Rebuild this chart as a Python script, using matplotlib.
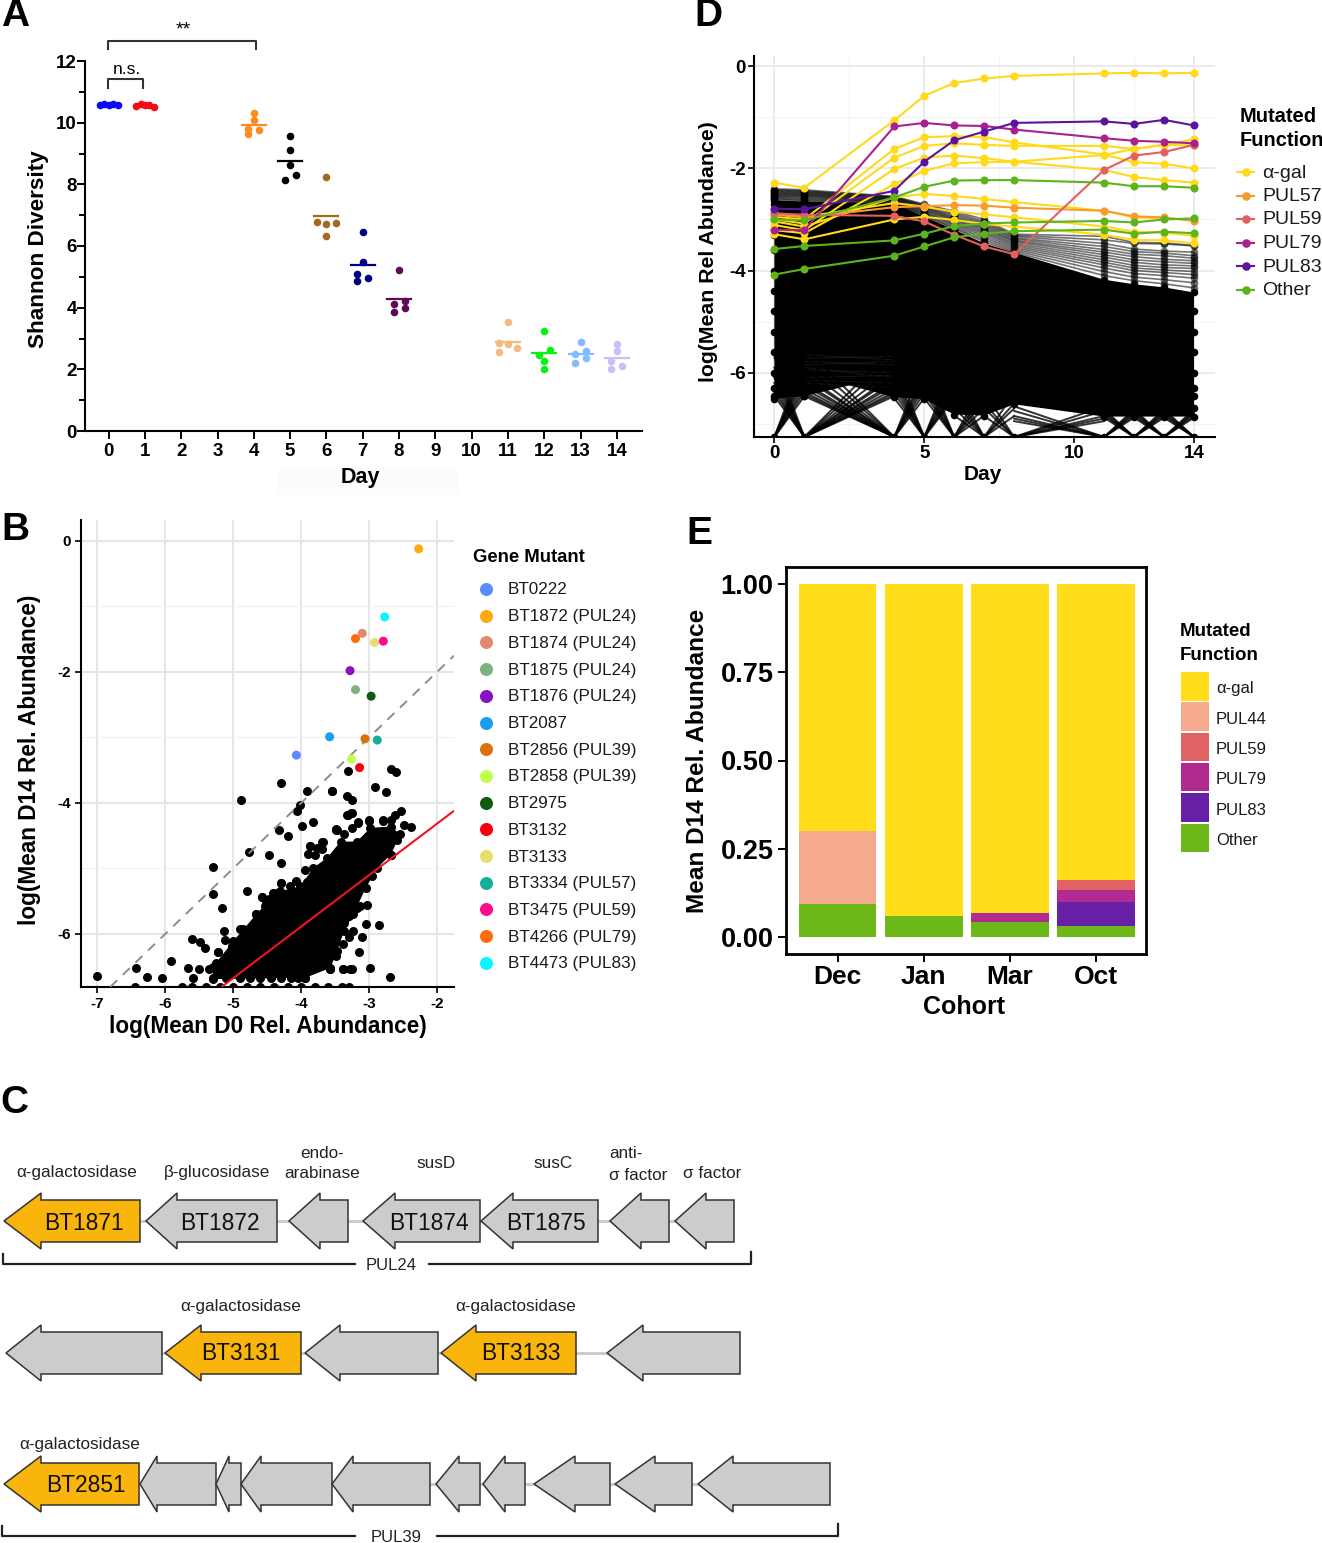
import matplotlib
matplotlib.use('Agg')
import matplotlib.pyplot as plt
from matplotlib.patches import Polygon, Rectangle

plt.rcParams['font.family'] = ['Liberation Sans', 'DejaVu Sans']
plt.rcParams['axes.unicode_minus'] = False

W, H = 1322, 1543

# panel A
shannon_days = [0, 1, 4, 5, 6, 7, 8, 11, 12, 13, 14]
shannon_colors = ['#0A0AF5', '#F50A14', '#FF8A1E', '#000000', '#A06A20', '#00007F', '#5E0A55',
                  '#F5B981', '#0AF014', '#82BCFF', '#C8C0FA']
shannon_offsets = [
    [-0.25, -0.12, 0, 0.12, 0.25],
    [-0.25, -0.12, 0, 0.12, 0.25],
    [-0.15, -0.15, 0, 0, 0.15],
    [-0.15, 0.15, 0, 0, 0],
    [0, -0.25, 0.25, 0, 0],
    [0, 0, -0.15, 0.15, -0.15],
    [0, 0.15, -0.15, 0.15, -0.15],
    [0, -0.25, 0, 0.25, -0.25],
    [0, 0.15, -0.15, 0, 0],
    [0, 0.15, -0.15, 0.15, -0.15],
    [0, 0, -0.15, 0.15, -0.15],
]
shannon_values = [
    [10.57, 10.62, 10.58, 10.62, 10.57],
    [10.53, 10.6, 10.56, 10.58, 10.5],
    [9.62, 9.8, 10.1, 10.3, 9.75],
    [8.15, 8.3, 8.63, 9.1, 9.57],
    [8.25, 6.77, 6.76, 6.7, 6.34],
    [6.47, 5.48, 5.09, 4.97, 4.86],
    [5.22, 4.22, 4.13, 4.0, 3.87],
    [3.52, 2.87, 2.83, 2.7, 2.56],
    [3.23, 2.63, 2.47, 2.28, 2.0],
    [2.9, 2.59, 2.49, 2.36, 2.19],
    [2.82, 2.6, 2.28, 2.12, 2.0],
]
shannon_means = [10.59, 10.55, 9.93, 8.76, 6.97, 5.38, 4.29, 2.89, 2.53, 2.5, 2.37]

# panel B
gene_names = ['BT0222', 'BT1872 (PUL24)', 'BT1874 (PUL24)', 'BT1875 (PUL24)', 'BT1876 (PUL24)', 'BT2087',
              'BT2856 (PUL39)', 'BT2858 (PUL39)', 'BT2975', 'BT3132', 'BT3133', 'BT3334 (PUL57)',
              'BT3475 (PUL59)', 'BT4266 (PUL79)', 'BT4473 (PUL83)']
gene_colors = ['#5B8CFF', '#FFA90F', '#E28A70', '#7FB27F', '#8612C4', '#1B9CF2', '#DB7207', '#BEFF50',
               '#0F5A0F', '#F5000F', '#E8DF6A', '#14AF96', '#FF0A8C', '#FF6D0A', '#0AF5FF']
gene_d0 = [-4.07, -2.27, -3.10, -3.20, -3.28, -3.58, -3.06, -3.26, -2.97, -3.14, -2.92, -2.88, -2.79, -3.20, -2.77]
gene_d14 = [-3.27, -0.12, -1.41, -2.27, -1.98, -2.99, -3.02, -3.33, -2.37, -3.46, -1.55, -3.04, -1.53, -1.49, -1.16]

other_d0 = [-3.31, -2.68, -2.61, -4.29, -3.91, -3.54, -2.91, -2.75, -3.32, -3.25, -4.88, -4.01, -4.06, -3.31,
            -3.25, -3.16, -3.0, -2.79, -4.76, -4.48, -3.87, -3.68, -5.3, -4.3, -5.3, -5.16, -4.79, -4.29,
            -4.57, -4.4, -5.6, -5.49, -5.41, -5.22, -5.92, -6.43, -5.67, -5.5, -7.0, -6.27, -6.05, -5.59,
            -5.35, -6.45, -3.38, -3.25, -3.57, -3.82, -3.99, -4.33, -4.19, -3.48,
            -5.13, -5.12, -4.90, -4.80, -5.02, -5.22, -4.66, -4.58, -4.48, -4.41, -4.53, -4.37, -4.30, -4.16,
            -4.08, -3.91, -3.94, -3.69, -3.77, -3.87, -3.90, -3.79, -3.69, -3.49, -3.37, -3.25, -3.16, -3.0,
            -2.80, -2.68, -2.62, -2.53, -2.49, -2.39, -2.59, -2.68, -2.96, -3.03, -3.13, -3.18, -3.30, -3.37,
            -3.23, -3.29, -3.10, -3.38, -3.15, -3.48, -3.38, -3.28, -3.58, -2.99, -2.69, -2.86, -3.05, -3.47,
            -3.33, -3.27, -3.55,
            -5.3, -5.1, -4.9, -4.75, -4.6, -4.45, -4.3, -4.15, -4.05, -3.94,
            -5.75, -5.6, -5.4, -5.2, -5.0, -4.8, -4.6, -4.4, -4.2, -4.0, -3.8, -3.6, -3.4, -3.3]
other_d14 = [-3.51, -3.48, -3.53, -3.70, -3.81, -3.81, -3.75, -3.83, -3.90, -3.96, -3.96, -4.03, -4.12, -4.19,
             -4.15, -4.29, -4.26, -4.26, -4.75, -4.79, -4.65, -4.6, -4.98, -4.92, -5.39, -5.6, -5.35, -5.22,
             -5.43, -5.38, -6.07, -6.13, -6.22, -6.28, -6.41, -6.52, -6.52, -6.54, -6.64, -6.66, -6.67, -6.67,
             -6.53, -6.81, -6.54, -6.53, -6.54, -4.29, -4.35, -4.42, -4.50, -4.40,
             -5.96, -6.10, -5.93, -5.95, -6.19, -6.28, -5.70, -5.44, -5.46, -5.37, -5.58, -5.54, -5.22, -5.27,
             -5.19, -5.20, -5.03, -4.60, -4.69, -4.65, -4.78, -4.79, -4.70, -4.41, -4.47, -4.38, -4.30, -4.27,
             -4.27, -4.26, -4.19, -4.12, -4.33, -4.36, -4.56, -4.79, -5.12, -5.56, -5.58, -5.60, -5.73, -5.83,
             -5.95, -6.05, -6.05, -6.15, -6.27, -6.34, -6.53, -6.53, -6.54, -6.52, -6.65, -5.87, -5.85, -4.42,
             -4.18, -4.15, -3.82,
             -6.67, -6.67, -6.67, -6.67, -6.67, -6.67, -6.67, -6.67, -6.67, -6.67,
             -6.81, -6.81, -6.81, -6.81, -6.81, -6.81, -6.81, -6.81, -6.81, -6.81, -6.81, -6.81, -6.81, -6.81]
# outline of the dense cloud of genes
cloud_d0 = [-5.3, -5.25, -5.0, -4.85, -4.66, -4.51, -4.31, -4.01, -3.82, -3.62, -3.42, -3.18, -2.98, -2.68, -2.54,
            -2.68, -2.88, -3.05, -3.23, -3.37, -3.47, -3.57, -3.94, -5.3]
cloud_d14 = [-6.5, -6.44, -6.11, -5.93, -5.70, -5.53, -5.35, -5.27, -4.99, -4.84, -4.59, -4.59, -4.38, -4.36, -4.48,
             -4.79, -4.99, -5.30, -5.70, -5.96, -6.26, -6.52, -6.67, -6.69]
unity_x = [-6.81, -1.75]
unity_y = [-6.81, -1.75]
fit_x = [-5.16, -1.75]
fit_y = [-6.8, -4.12]

# panel C: tip, shoulder and tail of each gene arrow, left to right
row1_genes = [(4, 41, 140), (146, 177, 277), (289, 320, 348), (363, 395, 480), (481, 513, 598), (610, 641, 669), (675, 706, 734)]
row1_fill = ['#F9B50B', '#CCCCCC', '#CCCCCC', '#CCCCCC', '#CCCCCC', '#CCCCCC', '#CCCCCC']
row2_genes = [(6, 41, 162), (165, 201, 301), (305, 340, 438), (441, 476, 576), (607, 643, 740)]
row2_fill = ['#CCCCCC', '#F9B50B', '#CCCCCC', '#F9B50B', '#CCCCCC']
row3_genes = [(4, 41, 139), (140, 157, 216), (216, 229, 241), (241, 261, 332), (332, 353, 430), (436, 459, 480),
              (483, 505, 525), (534, 575, 610), (615, 655, 692), (698, 733, 830)]
row3_fill = ['#F9B50B'] + ['#CCCCCC'] * 9
gene_tags = [('BT1871', 84, 1221), ('BT1872', 220, 1221), ('BT1874', 429, 1221), ('BT1875', 546, 1221),
             ('BT3131', 241, 1352), ('BT3133', 521, 1352), ('BT2851', 86, 1484)]
func_tags = [('α-galactosidase', 77, 1171), ('β-glucosidase', 217, 1171), ('endo-', 322, 1151), ('arabinase', 322, 1172),
             ('susD', 436, 1162), ('susC', 553, 1162), ('σ factor', 712, 1172),
             ('α-galactosidase', 241, 1305), ('α-galactosidase', 516, 1305), ('α-galactosidase', 80, 1443)]

# panel D
rel_days = [0, 1, 4, 5, 6, 7, 8, 11, 12, 13, 14]
func_names = ['α-gal', 'PUL57', 'PUL59', 'PUL79', 'PUL83', 'Other']
func_colors = ['#FFD91A', '#F79B2E', '#E3605F', '#A8218E', '#5A14A0', '#5DB31B']
gal_lines = [
    [-2.28, -2.38, -1.06, -0.58, -0.33, -0.24, -0.19, -0.14, -0.13, -0.14, -0.13],
    [-2.95, -3.0, -1.62, -1.39, -1.37, -1.39, -1.49, -1.73, -1.88, -1.91, -2.0],
    [-3.0, -3.08, -1.79, -1.56, -1.51, -1.54, -1.56, -1.56, -1.62, -1.54, -1.43],
    [-3.11, -3.21, -2.01, -1.79, -1.75, -1.8, -1.87, -2.03, -2.17, -2.23, -2.28],
    [-3.21, -3.27, -2.31, -2.05, -1.9, -1.88, -1.87, -1.74, -1.62, -1.54, -1.55],
    [-3.04, -3.14, -2.57, -2.5, -2.54, -2.6, -2.66, -2.83, -2.96, -2.98, -3.01],
    [-2.88, -2.95, -2.68, -2.75, -2.85, -2.9, -2.96, -3.14, -3.24, -3.26, -3.32],
    [-3.29, -3.39, -3.0, -2.95, -3.01, -3.09, -3.14, -3.3, -3.4, -3.41, -3.47],
]
pul57_line = [-2.91, -2.96, -2.76, -2.74, -2.72, -2.73, -2.77, -2.83, -2.94, -2.96, -3.03]
pul59_line = [-2.88, -2.91, -2.93, -3.04, -3.3, -3.53, -3.68, -2.03, -1.75, -1.68, -1.54]
pul79_line = [-3.2, -3.21, -1.18, -1.11, -1.16, -1.17, -1.24, -1.41, -1.46, -1.48, -1.51]
pul83_line = [-2.79, -2.8, -2.44, -1.87, -1.45, -1.28, -1.11, -1.08, -1.13, -1.05, -1.16]
other_lines = [
    [-3.0, -3.02, -2.57, -2.36, -2.24, -2.23, -2.23, -2.28, -2.35, -2.35, -2.38],
    [-3.58, -3.52, -3.41, -3.28, -3.13, -3.08, -3.06, -3.03, -3.06, -3.0, -2.98],
    [-4.08, -3.97, -3.71, -3.53, -3.35, -3.28, -3.23, -3.2, -3.28, -3.24, -3.27],
]
gray_lines = [
    [-2.40, -2.42, -2.55, -2.70, -2.84, -3.00, -3.29, -3.33, -3.45, -3.46, -3.51],
    [-2.42, -2.44, -2.56, -2.72, -2.87, -3.04, -3.31, -3.40, -3.47, -3.48, -3.52],
    [-2.43, -2.45, -2.57, -2.73, -2.90, -3.07, -3.33, -3.47, -3.58, -3.62, -3.64],
    [-2.45, -2.47, -2.58, -2.75, -2.93, -3.10, -3.36, -3.53, -3.63, -3.66, -3.71],
    [-2.46, -2.48, -2.59, -2.76, -2.96, -3.13, -3.38, -3.59, -3.68, -3.71, -3.76],
    [-2.48, -2.50, -2.60, -2.78, -2.98, -3.16, -3.41, -3.64, -3.73, -3.78, -3.81],
    [-2.49, -2.51, -2.61, -2.80, -3.00, -3.19, -3.43, -3.69, -3.79, -3.83, -3.86],
    [-2.51, -2.53, -2.62, -2.82, -3.02, -3.22, -3.46, -3.74, -3.84, -3.89, -3.91],
    [-2.52, -2.54, -2.63, -2.84, -3.05, -3.25, -3.49, -3.79, -3.90, -3.94, -3.96],
    [-2.54, -2.56, -2.64, -2.86, -3.08, -3.28, -3.52, -3.84, -3.95, -3.99, -4.02],
    [-2.55, -2.58, -2.65, -2.88, -3.10, -3.32, -3.55, -3.89, -4.00, -4.04, -4.08],
    [-2.57, -2.60, -2.66, -2.90, -3.13, -3.36, -3.58, -3.95, -4.06, -4.10, -4.15],
    [-2.59, -2.62, -2.67, -2.92, -3.16, -3.40, -3.61, -4.02, -4.13, -4.18, -4.24],
    [-2.60, -2.64, -2.68, -2.94, -3.18, -3.44, -3.64, -4.10, -4.20, -4.26, -4.34],
]
mass_top = [-2.62, -2.65, -2.68, -2.95, -3.2, -3.47, -3.65, -4.18, -4.27, -4.33, -4.43]
mass_low = [-6.51, -6.46, -6.48, -6.52, -6.82, -6.84, -6.62, -6.86, -6.86, -6.86, -6.86]
sag_day = [2.5]
sag_level = [-6.25]
column_levels = [-2.7, -3.0, -3.3, -3.6, -4.0, -4.4, -4.8, -5.2, -5.6, -6.0, -6.3, -6.45, -6.7]
floor_level = -7.26
gap_from = [0, 1, 4, 5, 6, 7, 8, 11, 12, 13]
gap_to = [1, 4, 5, 6, 7, 8, 11, 12, 13, 14]
gap_levels = [
    [-6.46, -6.38, -6.3, -6.2, -6.1, -6.0, -5.9, -5.7],
    [-6.46, -6.42, -6.38, -6.32, -6.25, -6.2, -6.1, -6.05, -5.9, -5.7, -5.5],
    [-6.5, -6.4, -6.3, -6.2, -6.1, -6.0, -5.8],
    [-6.5, -6.4, -6.3, -6.15, -6.0, -5.8],
    [-6.84, -6.7, -6.55, -6.4, -6.2],
    [-6.85, -6.7, -6.6, -6.4],
    [-6.95, -6.9, -6.85, -6.75, -6.66],
    [-6.88, -6.84, -6.8, -6.76, -6.72],
    [-6.88, -6.84, -6.8, -6.76, -6.72],
    [-6.88, -6.84, -6.8, -6.76, -6.72],
]
streak_start = [-5.65, -5.72, -5.78, -5.85, -5.95, -6.1, -6.15, -6.2, -5.9]
streak_end = [-5.75, -5.68, -5.85, -5.78, -6.0, -6.05, -6.2, -6.3, -6.1]

# panel E
cohorts = ['Dec', 'Jan', 'Mar', 'Oct']
stack_names = ['α-gal', 'PUL44', 'PUL59', 'PUL79', 'PUL83', 'Other']
stack_colors = ['#FFDD1A', '#F7AB8E', '#E26363', '#B02A8F', '#6720A5', '#6DB819']
other_share = [0.094, 0.061, 0.044, 0.03]
pul83_share = [0, 0, 0, 0.068]
pul79_share = [0, 0, 0.023, 0.034]
pul59_share = [0, 0, 0, 0.03]
pul44_share = [0.206, 0, 0, 0]
gal_share = [0.70, 0.939, 0.933, 0.838]


def add_ax(left, top, right, bottom):
    return fig.add_axes([left / W, 1 - bottom / H, (right - left) / W, (bottom - top) / H])


def clean_spines(ax, width=1.5):
    ax.spines['top'].set_visible(False)
    ax.spines['right'].set_visible(False)
    ax.spines['left'].set_linewidth(width)
    ax.spines['bottom'].set_linewidth(width)


def bold_ticks(ax):
    for lab in ax.get_xticklabels() + ax.get_yticklabels():
        lab.set_fontweight('bold')


def label(x, y, s, **kw):
    # va=center sits a little high next to the reference
    kw.setdefault('va', 'center')
    page.text(x, y + 2, s, **kw)


fig = plt.figure(figsize=(W / 100, H / 100), dpi=100)

# page layer in pixel coordinates for panel C, legends and labels
page = fig.add_axes([0, 0, 1, 1], zorder=5)
page.set_xlim(0, W)
page.set_ylim(H, 0)
page.axis('off')
page.patch.set_alpha(0)

# ---- A ----
ax = add_ax(85, 61, 642, 431)
for i in range(len(shannon_days)):
    day = shannon_days[i]
    xs = [day + o for o in shannon_offsets[i]]
    ax.scatter(xs, shannon_values[i], s=30, color=shannon_colors[i], linewidths=0, clip_on=False, zorder=3)
    if i > 1:
        ax.plot([day - 0.33, day + 0.33], [shannon_means[i]] * 2, color=shannon_colors[i], lw=1.6, zorder=3)
ax.set_xlim(-0.65, 14.69)
ax.set_ylim(0, 12)
ax.set_xticks(range(15))
ax.set_yticks(range(0, 13, 2))
ax.set_yticks(range(1, 13, 2), minor=True)
ax.tick_params(axis='x', which='major', length=6, width=1.4, labelsize=13.5, pad=3)
ax.tick_params(axis='y', which='major', length=6, width=1.4, labelsize=13.5, pad=0)
ax.tick_params(axis='y', which='minor', length=4, width=1.4)
bold_ticks(ax)
clean_spines(ax)

page.add_patch(Rectangle((278, 468), 180, 27, color='#FCFCFC', lw=0))
label(360, 476, 'Day', fontsize=15.5, fontweight='bold', ha='center')
page.text(39, 249, 'Shannon Diversity', fontsize=16.2, fontweight='bold', rotation=90, ha='center', va='center')
page.plot([108, 108, 256, 256], [49, 41, 41, 49], color='#333333', lw=1.5)
label(183, 28, '**', fontsize=14, ha='center')
page.plot([108, 108, 143, 143], [88, 79, 79, 88], color='#333333', lw=1.5)
label(127, 67, 'n.s.', fontsize=12.5, ha='center')

# ---- B ----
ax = add_ax(81, 520, 454, 987)
ax.set_xlim(-7.24, -1.75)
ax.set_ylim(-6.81, 0.32)
ax.set_axisbelow(True)
ax.set_xticks(range(-7, -1))
ax.set_yticks([-6, -4, -2, 0])
ax.set_yticks([-5, -3, -1], minor=True)
ax.grid(True, which='major', color='#E6E6E6', lw=1.5)
ax.grid(True, which='minor', axis='y', color='#F0F0F0', lw=0.8)
ax.fill(cloud_d0, cloud_d14, color='black', lw=0, zorder=2)
ax.scatter(cloud_d0, cloud_d14, s=42, color='black', linewidths=0, zorder=2)
ax.scatter(other_d0, other_d14, s=42, color='black', linewidths=0, zorder=2)
ax.plot(unity_x, unity_y, color='#8C8C8C', lw=1.4, ls=(0, (5, 4)), zorder=3)
ax.plot(fit_x, fit_y, color='#F0141E', lw=1.5, zorder=4)
ax.scatter(gene_d0, gene_d14, s=42, c=gene_colors, linewidths=0, zorder=5)
ax.tick_params(axis='both', which='major', length=4, width=1.2, labelsize=11, pad=3)
ax.tick_params(axis='y', which='minor', length=0)
bold_ticks(ax)
clean_spines(ax)

label(268, 1024, 'log(Mean D0 Rel. Abundance)', fontsize=16.3, fontweight='bold', ha='center')
page.text(30, 760, 'log(Mean D14 Rel. Abundance)', fontsize=16.3, fontweight='bold', rotation=90, ha='center', va='center')
label(473, 556, 'Gene Mutant', fontsize=13.3, fontweight='bold')
for i in range(len(gene_names)):
    y = 589 + 26.7 * i
    page.scatter([486], [y], s=88, color=gene_colors[i], linewidths=0)
    label(508, y - 1, gene_names[i], fontsize=12.3, color='#1A1A1A')

# ---- C ----
for genes, fills, yc, body, head in [(row1_genes, row1_fill, 1221, 21, 28),
                                     (row2_genes, row2_fill, 1353, 21, 28),
                                     (row3_genes, row3_fill, 1484, 21, 28)]:
    page.plot([genes[0][2], genes[-1][0]], [yc, yc], color='#CCCCCC', lw=2.2, zorder=1)
    for gene, fill in zip(genes, fills):
        tip, shoulder, tail = gene
        pts = [(tip, yc), (shoulder, yc - head), (shoulder, yc - body), (tail, yc - body),
               (tail, yc + body), (shoulder, yc + body), (shoulder, yc + head)]
        page.add_patch(Polygon(pts, closed=True, facecolor=fill, edgecolor='#333333', lw=1.1, zorder=2))
for name, x, y in gene_tags:
    page.text(x, y + 2, name, fontsize=16.4, ha='center', va='center', color='#111111', zorder=3)
for name, x, y in func_tags:
    label(x, y, name, fontsize=12.3, ha='center', color='#222222')
label(609, 1152, 'anti-', fontsize=12.3, color='#222222')
label(609, 1173, 'σ factor', fontsize=12.3, color='#222222')

page.plot([3, 3, 355], [1254, 1264, 1264], color='#222222', lw=1.6)
page.plot([429, 751, 751], [1264, 1264, 1252], color='#222222', lw=1.6)
label(391, 1263, 'PUL24', fontsize=12, ha='center', color='#222222')
page.plot([2, 2, 355], [1526, 1536, 1536], color='#222222', lw=1.6)
page.plot([437, 838, 838], [1536, 1536, 1524], color='#222222', lw=1.6)
label(396, 1535, 'PUL39', fontsize=12, ha='center', color='#222222')

# ---- D ----
ax = add_ax(754, 56, 1215, 437)
ax.set_xlim(-0.68, 14.7)
ax.set_ylim(floor_level, 0.2)
ax.set_axisbelow(True)
ax.set_xticks([0, 5, 10, 14])
ax.set_xticks([2.5, 7.5, 12], minor=True)
ax.set_yticks([-6, -4, -2, 0])
ax.set_yticks([-7, -5, -3, -1], minor=True)
ax.grid(True, which='major', color='#EBEBEB', lw=1.4)
ax.grid(True, which='minor', color='#F3F3F3', lw=0.8)
for line in gray_lines:
    ax.plot(rel_days, line, color='black', alpha=0.55, lw=1.2, marker='o', ms=5.5, mew=0, zorder=2)
# dense block of the remaining gene mutants
block_days = rel_days + rel_days[:0:-1][:9] + sag_day + rel_days[1::-1]
block_levels = mass_top + mass_low[:0:-1][:9] + sag_level + mass_low[1::-1]
ax.fill(block_days, block_levels, color='black', lw=0, zorder=2)
for a, b in zip(streak_start, streak_end):
    ax.plot([1, 4], [a, b], color='#333333', alpha=0.4, lw=0.8, zorder=2)
for d, start, levels in zip(gap_from, gap_to, gap_levels):
    for level in levels:
        ax.plot([d, start], [floor_level, level], color='black', alpha=0.8, lw=1.4, zorder=2)
        ax.plot([d, start], [level, floor_level], color='black', alpha=0.8, lw=1.4, zorder=2)
for d, top, low in zip(rel_days, mass_top, mass_low):
    col = [v for v in column_levels if low <= v <= top] + [top, low, floor_level]
    ax.scatter([d] * len(col), col, s=30, color='black', linewidths=0, zorder=2)
for line in gal_lines:
    ax.plot(rel_days, line, color=func_colors[0], lw=1.5, marker='o', ms=5.8, mew=0, zorder=3)
ax.plot(rel_days, pul57_line, color=func_colors[1], lw=1.5, marker='o', ms=5.8, mew=0, zorder=3)
ax.plot(rel_days, pul59_line, color=func_colors[2], lw=1.5, marker='o', ms=5.8, mew=0, zorder=3)
ax.plot(rel_days, pul79_line, color=func_colors[3], lw=1.5, marker='o', ms=5.8, mew=0, zorder=3)
ax.plot(rel_days, pul83_line, color=func_colors[4], lw=1.5, marker='o', ms=5.8, mew=0, zorder=3)
for line in other_lines:
    ax.plot(rel_days, line, color=func_colors[5], lw=1.5, marker='o', ms=5.8, mew=0, zorder=3)
ax.tick_params(axis='both', which='major', length=4, width=1.2, labelsize=13.5, pad=2)
ax.tick_params(axis='both', which='minor', length=0)
bold_ticks(ax)
clean_spines(ax)

label(983, 472, 'Day', fontsize=15, fontweight='bold', ha='center')
page.text(708, 252, 'log(Mean Rel Abundance)', fontsize=15.3, fontweight='bold', rotation=90, ha='center', va='center')
label(1240, 114, 'Mutated', fontsize=14.5, fontweight='bold')
label(1240, 138, 'Function', fontsize=14.5, fontweight='bold')
for i in range(len(func_names)):
    y = 172 + 23.5 * i
    page.plot([1237, 1254], [y, y], color=func_colors[i], lw=1.5)
    page.scatter([1246], [y], s=38, color=func_colors[i], linewidths=0, zorder=3)
    label(1262, y - 1, func_names[i], fontsize=14, color='#1A1A1A')

# ---- E ----
ax = add_ax(786, 567, 1146, 954)
stack_values = [gal_share, pul44_share, pul59_share, pul79_share, pul83_share, other_share]
pos = range(len(cohorts))
base = [0, 0, 0, 0]
for i in range(5, -1, -1):
    ax.bar(pos, stack_values[i], width=0.9, bottom=base, color=stack_colors[i], lw=0)
    base = [b + v for b, v in zip(base, stack_values[i])]
ax.set_xlim(-0.6, 3.58)
ax.set_ylim(-0.048, 1.048)
ax.set_xticks(list(pos))
ax.set_xticklabels(cohorts)
ax.set_yticks([0, 0.25, 0.5, 0.75, 1.0])
ax.set_yticklabels(['0.00', '0.25', '0.50', '0.75', '1.00'])
ax.tick_params(axis='x', length=6, width=1.4, labelsize=19, pad=2)
ax.tick_params(axis='y', length=6, width=1.4, labelsize=19.5, pad=3)
bold_ticks(ax)
for s in ax.spines.values():
    s.set_linewidth(2)

label(964, 1005, 'Cohort', fontsize=18, fontweight='bold', ha='center')
page.text(698, 761, 'Mean D14 Rel. Abundance', fontsize=17.6, fontweight='bold', rotation=90, ha='center', va='center')
label(1180, 630, 'Mutated', fontsize=13.5, fontweight='bold')
label(1180, 653, 'Function', fontsize=13.5, fontweight='bold')
for i in range(len(stack_names)):
    y = 672 + 30.3 * i
    page.add_patch(Rectangle((1180.5, y), 28.5, 28.5, color=stack_colors[i], lw=0))
    label(1216, y + 15, stack_names[i], fontsize=12, color='#1A1A1A')

# panel letters
for letter, x, y in [('A', 1, 14), ('B', 1, 528), ('C', 0, 1101), ('D', 694, 14), ('E', 686, 532)]:
    label(x, y, letter, fontsize=28, fontweight='bold')

page.set_xlim(0, W)
page.set_ylim(H, 0)
fig.savefig('out.png', dpi=100)
